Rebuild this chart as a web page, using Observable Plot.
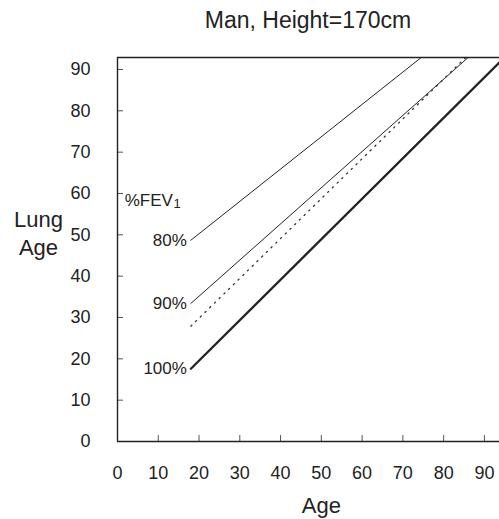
<!DOCTYPE html>
<html><head><meta charset="utf-8">
<script src="https://cdn.jsdelivr.net/npm/d3@7"></script>
<script src="https://cdn.jsdelivr.net/npm/@observablehq/plot@0.6"></script>
<style>
body{margin:0;background:#fff;font-family:"Liberation Sans",Arial,sans-serif;color:#222;}
#title{height:40px;width:499px;position:relative;}
#title span{position:absolute;left:308px;top:20px;transform:translate(-50%,-50%);font-size:23px;white-space:nowrap;}
</style></head><body>
<div id="title"><span></span></div>
<div id="chart"></div>
<script>
// ---- data ----
const title = "Man, Height=170cm";
const xLabel = "Age";
const yLabel = "Lung\nAge";
const legendTitle = "%FEV";
const legendSub = "1";
const xTicks = [0, 10, 20, 30, 40, 50, 60, 70, 80, 90];
const yTicks = [0, 10, 20, 30, 40, 50, 60, 70, 80, 90];
const xDomain = [0, 93.7];
const yDomain = [0, 92.9];

const seriesNames = ["80%", "90%", "100%", "ref"];
const ages80 = [18, 74.5];   const lung80 = [48.7, 92.9];
const ages90 = [18, 86.0];   const lung90 = [33.4, 92.9];
const ages100 = [18, 95.0];  const lung100 = [17.6, 93.0];
const agesRef = [18, 85.5];  const lungRef = [27.9, 93.0];
const legendAge = 18, legendLung = 58.3;

document.querySelector("#title span").textContent = title;

const toRows = (name, ages, lungs) => ages.map((a, i) => ({series: name, age: a, lung: lungs[i]}));
const r80 = toRows(seriesNames[0], ages80, lung80);
const r90 = toRows(seriesNames[1], ages90, lung90);
const r100 = toRows(seriesNames[2], ages100, lung100);
const rRef = toRows(seriesNames[3], agesRef, lungRef);
const labelRows = [r80[0], r90[0], r100[0]];

const ink = "#222";
const chart = Plot.plot({
  width: 499,
  height: 479,
  marginLeft: 117,
  marginRight: 0,
  marginTop: 17,
  marginBottom: 78,
  style: {fontFamily: '"Liberation Sans", Arial, sans-serif', color: ink, background: "#fff"},
  x: {domain: xDomain},
  y: {domain: yDomain},
  marks: [
    Plot.line(r80, {x: "age", y: "lung", stroke: ink, strokeWidth: 1, clip: true}),
    Plot.line(r90, {x: "age", y: "lung", stroke: ink, strokeWidth: 1, clip: true}),
    Plot.line(rRef, {x: "age", y: "lung", stroke: "#333", strokeWidth: 1.3, strokeDasharray: "1.3,5.3", clip: true}),
    Plot.line(r100, {x: "age", y: "lung", stroke: ink, strokeWidth: 2.3, clip: true}),
    Plot.text(labelRows, {x: "age", y: "lung", text: "series", textAnchor: "end", dx: -4, fontSize: 17, fill: ink}),
    Plot.text([legendTitle], {x: legendAge, y: legendLung, text: d => d, textAnchor: "end", dx: -18, fontSize: 17, fill: ink}),
    Plot.text([legendSub], {x: legendAge, y: legendLung, text: d => d, textAnchor: "start", dx: -17.5, dy: 3, fontSize: 13, fill: ink}),
    Plot.axisX(xTicks, {tickSize: -6, tickPadding: 31, fontSize: 18, label: null, stroke: "#555"}),
    Plot.axisY(yTicks, {tickSize: -6, tickPadding: 33, fontSize: 18, label: null, stroke: "#555"}),
    Plot.ruleX([xDomain[0]], {stroke: ink, strokeWidth: 1.4}),
    Plot.ruleY([yDomain[0]], {stroke: ink, strokeWidth: 1.4}),
    Plot.ruleY([yDomain[1]], {stroke: ink, strokeWidth: 1.4}),
    Plot.text([xLabel], {x: 50, frameAnchor: "bottom", dy: 64, fontSize: 22, fill: ink, lineAnchor: "middle"}),
    Plot.text([yLabel], {frameAnchor: "left", dx: -79, dy: -17, fontSize: 22, fill: ink, lineAnchor: "middle", textAnchor: "middle", lineHeight: 1.27})
  ]
});
document.getElementById("chart").appendChild(chart);
</script>
</body></html>
